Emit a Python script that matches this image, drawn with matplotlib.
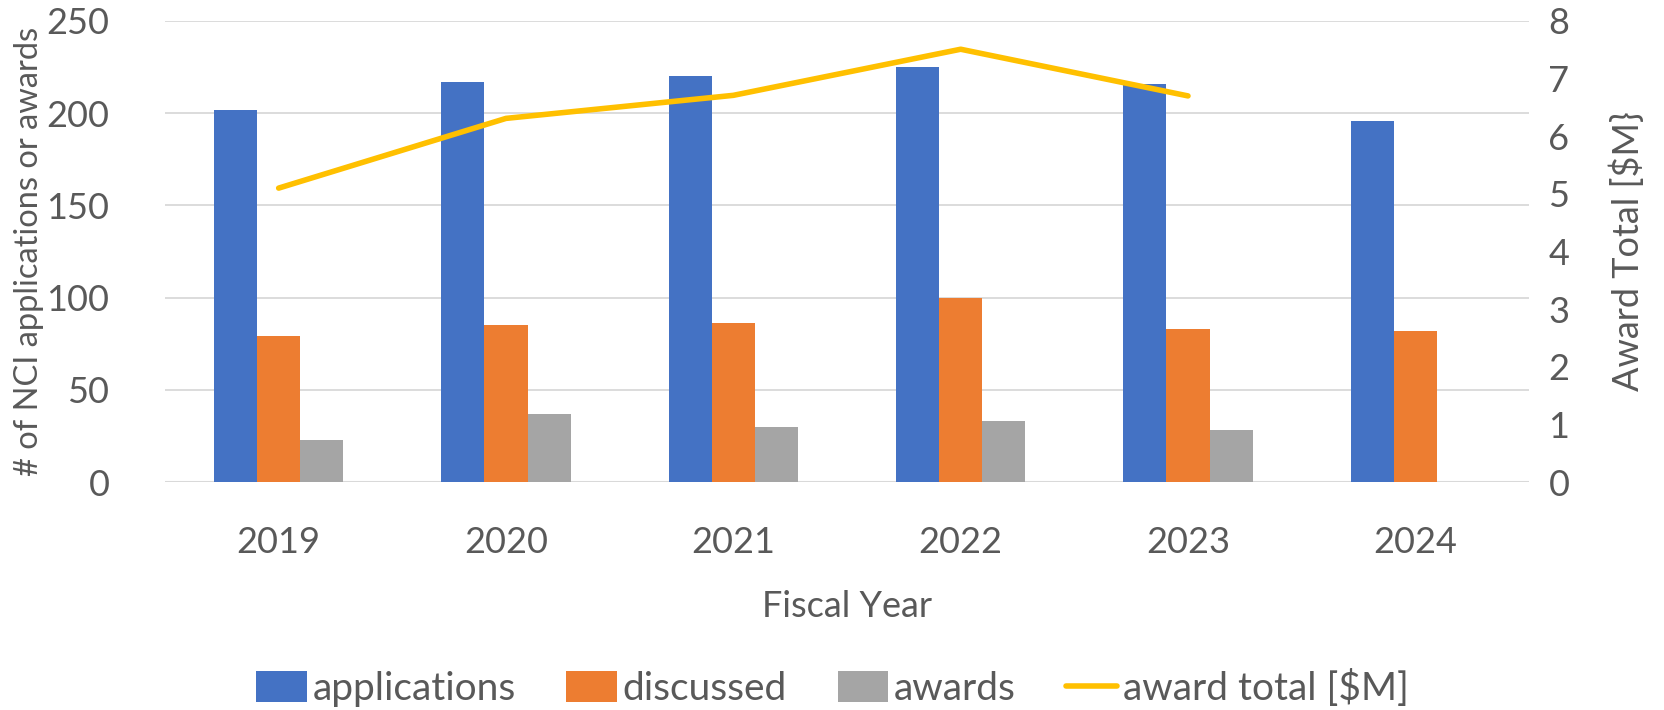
import matplotlib.pyplot as plt
import numpy as np

plt.rcParams['font.family'] = ['Lato', 'DejaVu Sans']

years = ['2019', '2020', '2021', '2022', '2023', '2024']
applications = [202, 217, 220, 225, 216, 196]
discussed = [79, 85, 86, 100, 83, 82]
awards = [23, 37, 30, 33, 28, np.nan]
award_total = [5.1, 6.31, 6.71, 7.51, 6.7, np.nan]

txt = '#595959'
fs = 26

fig = plt.figure(figsize=(16.65, 7.10), dpi=100)
ax = fig.add_axes([165/1665, 1 - 482/710, (1529-165)/1665, (482-21)/710])
ax2 = ax.twinx()

x = np.arange(len(years))
w = 0.19
ax.bar(x - w, applications, w, color='#4472C4', label='applications', zorder=2)
ax.bar(x, discussed, w, color='#ED7D31', label='discussed', zorder=2)
ax.bar(x + w, awards, w, color='#A5A5A5', label='awards', zorder=2)
ax2.plot(x, award_total, color='#FFC000', lw=4, solid_capstyle='round',
         solid_joinstyle='round', label='award total [$M]')

ax.set_xlim(-0.5, len(years) - 0.5)
ax.set_ylim(0, 250)
ax.set_yticks(range(0, 251, 50))
ax2.set_ylim(0, 8)
ax2.set_yticks(range(0, 9))
ax.yaxis.grid(True, color='#d9d9d9', lw=1.3, zorder=0)
ax.set_axisbelow(True)

ax.set_xticks(x)
ax.set_xticklabels(years)
for a in (ax, ax2):
    for s in a.spines.values():
        s.set_visible(False)
    a.tick_params(length=0, labelsize=fs, labelcolor=txt)
ax.tick_params(axis='x', pad=32)
ax.tick_params(axis='y', pad=40)
ax2.tick_params(axis='y', pad=14)
ax.axhline(0, color='#d9d9d9', lw=1.5, zorder=1)

ax.set_xlabel('Fiscal Year', fontsize=fs, color=txt, labelpad=22)
ax.set_ylabel('# of NCI applications or awards', fontsize=23.5, color=txt, labelpad=2)
ax2.set_ylabel('Award Total [$M}', fontsize=fs, color=txt, labelpad=29)

h1, l1 = ax.get_legend_handles_labels()
h2, l2 = ax2.get_legend_handles_labels()
leg = fig.legend(h1 + h2, l1 + l2, loc='center', bbox_to_anchor=(0.5, 1 - 688/710),
                 ncol=4, frameon=False, fontsize=28, handlelength=1.3, handleheight=0.85,
                 handletextpad=0.15, columnspacing=1.3)
for t in leg.get_texts():
    t.set_color(txt)

fig.savefig('out.png', dpi=100)
